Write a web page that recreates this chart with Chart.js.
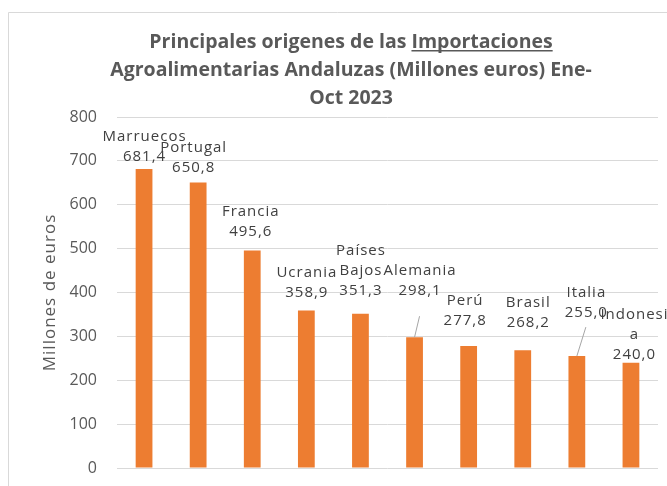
<!DOCTYPE html>
<html lang="es">
<head>
<meta charset="UTF-8" />
<title>Importaciones Agroalimentarias Andaluzas</title>
<script src="https://cdn.jsdelivr.net/npm/chart.js@4.4.0/dist/chart.umd.min.js"></script>
<style>
  html, body { margin: 0; padding: 0; background: #fff; }
  #wrap { width: 667px; height: 486px; }
</style>
</head>
<body>
<div id="wrap"><canvas id="chart" width="667" height="486"></canvas></div>
<script>
// datos (millones de euros, ene-oct 2023)
const categories = ['Marruecos', 'Portugal', 'Francia', 'Ucrania', 'Países Bajos', 'Alemania', 'Perú', 'Brasil', 'Italia', 'Indonesia'];
const values = [681.4, 650.8, 495.6, 358.9, 351.3, 298.1, 277.8, 268.2, 255.0, 240.0];
const yTicks = [0, 100, 200, 300, 400, 500, 600, 700, 800];

const titleLines = ['Principales origenes de las Importaciones', 'Agroalimentarias Andaluzas (Millones euros) Ene-', 'Oct 2023'];
const yTitle = 'Millones de euros';

// how each data label is wrapped, and where it sits relative to the bar top (px)
const labelWrap = [['Marruecos'], ['Portugal'], ['Francia'], ['Ucrania'], ['Países', 'Bajos'], ['Alemania'], ['Perú'], ['Brasil'], ['Italia'], ['Indonesi', 'a']];
const labelDx = [0, -5, -2, 0, 0, 5, -4, 5, 9, 3];
const labelDy = [-12, -15, -19, -18, -23, -46, -25, -28, -43, -8];
const leader = { 5: 25, 8: 14 };

function fmt(v) {
    return v.toFixed(1).replace('.', ',');
}

const frame = {
    id: 'frame',
    beforeDraw(chart) {
        const ctx = chart.ctx;
        ctx.save();
        ctx.fillStyle = '#fff';
        ctx.fillRect(0, 0, chart.width, chart.height);
        ctx.strokeStyle = '#d9d9d9';
        ctx.lineWidth = 1;
        ctx.beginPath();
        ctx.moveTo(8.5, chart.height);
        ctx.lineTo(8.5, 12.5);
        ctx.lineTo(chart.width, 12.5);
        ctx.stroke();

        // title
        ctx.fillStyle = '#595959';
        ctx.font = 'bold 19.5px "Open Sans"';
        ctx.textAlign = 'center';
        ctx.textBaseline = 'middle';
        const cx = 351;
        titleLines.forEach((t, i) => ctx.fillText(t, cx, 42 + i * 28));
        // underline "Importaciones"
        const full = ctx.measureText(titleLines[0]).width;
        const pre = ctx.measureText('Principales origenes de las ').width;
        const word = ctx.measureText('Importaciones').width;
        const x0 = cx - full / 2 + pre;
        ctx.fillRect(x0, 50, word, 1.5);

        // y axis title
        const area = chart.chartArea;
        ctx.font = '17px "Open Sans"';
        ctx.letterSpacing = '1px';
        ctx.translate(50, (area.top + area.bottom) / 2);
        ctx.rotate(-Math.PI / 2);
        ctx.fillText(yTitle, 0, 0);
        ctx.restore();
    }
};

const barLabels = {
    id: 'barLabels',
    afterDatasetsDraw(chart) {
        const ctx = chart.ctx;
        const meta = chart.getDatasetMeta(0);
        ctx.save();
        ctx.font = '15px "Open Sans"';
        ctx.letterSpacing = '1px';
        ctx.fillStyle = '#404040';
        ctx.textAlign = 'center';
        ctx.textBaseline = 'middle';
        meta.data.forEach((bar, i) => {
            const lines = labelWrap[i].concat([fmt(values[i])]);
            const x = bar.x + labelDx[i];
            const yLast = bar.y + labelDy[i];
            lines.forEach((t, k) => {
                ctx.fillText(t, x + 0.5, yLast - (lines.length - 1 - k) * 20);
            });
            if (leader[i] !== undefined) {
                ctx.strokeStyle = '#a6a6a6';
                ctx.lineWidth = 1;
                ctx.beginPath();
                ctx.moveTo(x, yLast + leader[i]);
                ctx.lineTo(bar.x, bar.y);
                ctx.stroke();
            }
        });
        ctx.restore();
    }
};

new Chart(document.getElementById('chart'), {
    type: 'bar',
    data: {
        labels: categories,
        datasets: [{
            data: values,
            backgroundColor: '#ED7D31',
            borderWidth: 0,
            categoryPercentage: 1,
            barPercentage: 0.31
        }]
    },
    options: {
        responsive: false,
        animation: false,
        events: [],
        layout: { padding: { top: 117, bottom: 18, left: 0, right: 9 } },
        plugins: {
            legend: { display: false },
            title: { display: false },
            tooltip: { enabled: false }
        },
        scales: {
            x: { display: false },
            y: {
                min: 0,
                max: 800,
                afterBuildTicks(scale) {
                    scale.ticks = yTicks.map(v => ({ value: v }));
                },
                afterFit(scale) {
                    scale.width = 117;
                    scale.paddingTop = 0;
                    scale.paddingBottom = 0;
                },
                border: { display: false },
                grid: { color: '#d9d9d9', lineWidth: 1, drawTicks: false },
                ticks: {
                    padding: 20,
                    color: '#595959',
                    font: { family: 'Open Sans', size: 16 }
                }
            }
        }
    },
    plugins: [frame, barLabels]
});
</script>
</body>
</html>
